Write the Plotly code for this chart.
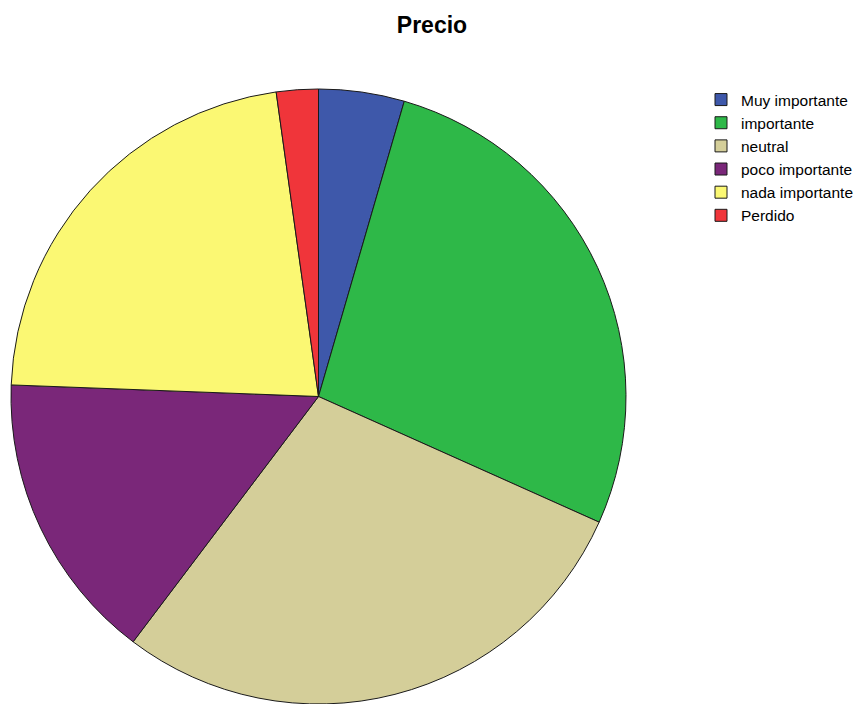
import plotly.graph_objects as go

labels = ["Muy importante", "importante", "neutral", "poco importante", "nada importante", "Perdido"]
values = [4.5, 27.2, 28.6, 15.3, 22.2, 2.2]
colors = ["#3E58AA", "#2EB848", "#D4CE99", "#7A2779", "#FBF873", "#F0353A"]

W, H = 867, 704
ml, mt = 11, 89
pw = W - ml
ph = H - mt
diam = ph

fig = go.Figure(go.Pie(
    labels=labels, values=values, sort=False, direction="clockwise", rotation=0,
    marker=dict(colors=colors, line=dict(color="#1a1a1a", width=1)),
    textinfo="none", hoverinfo="label+percent",
    domain=dict(x=[0, diam / pw], y=[0, 1]),
))

fig.update_layout(
    width=W, height=H,
    margin=dict(l=ml, r=0, t=mt, b=0),
    paper_bgcolor="white", plot_bgcolor="white",
    font=dict(family="Liberation Sans, Arial, sans-serif", color="black", size=15),
    title=dict(text="Precio", font=dict(size=23, weight="bold", color="black"),
               x=432 / W, xref="container", xanchor="center",
               y=1 - 25 / H, yref="container", yanchor="middle"),
    legend=dict(x=(701 - ml) / pw, xanchor="left", y=1 + 6 / ph, yanchor="top",
                font=dict(size=15.5), tracegroupgap=0, bgcolor="rgba(0,0,0,0)"),
    showlegend=True,
)

fig.write_html("out.html")
